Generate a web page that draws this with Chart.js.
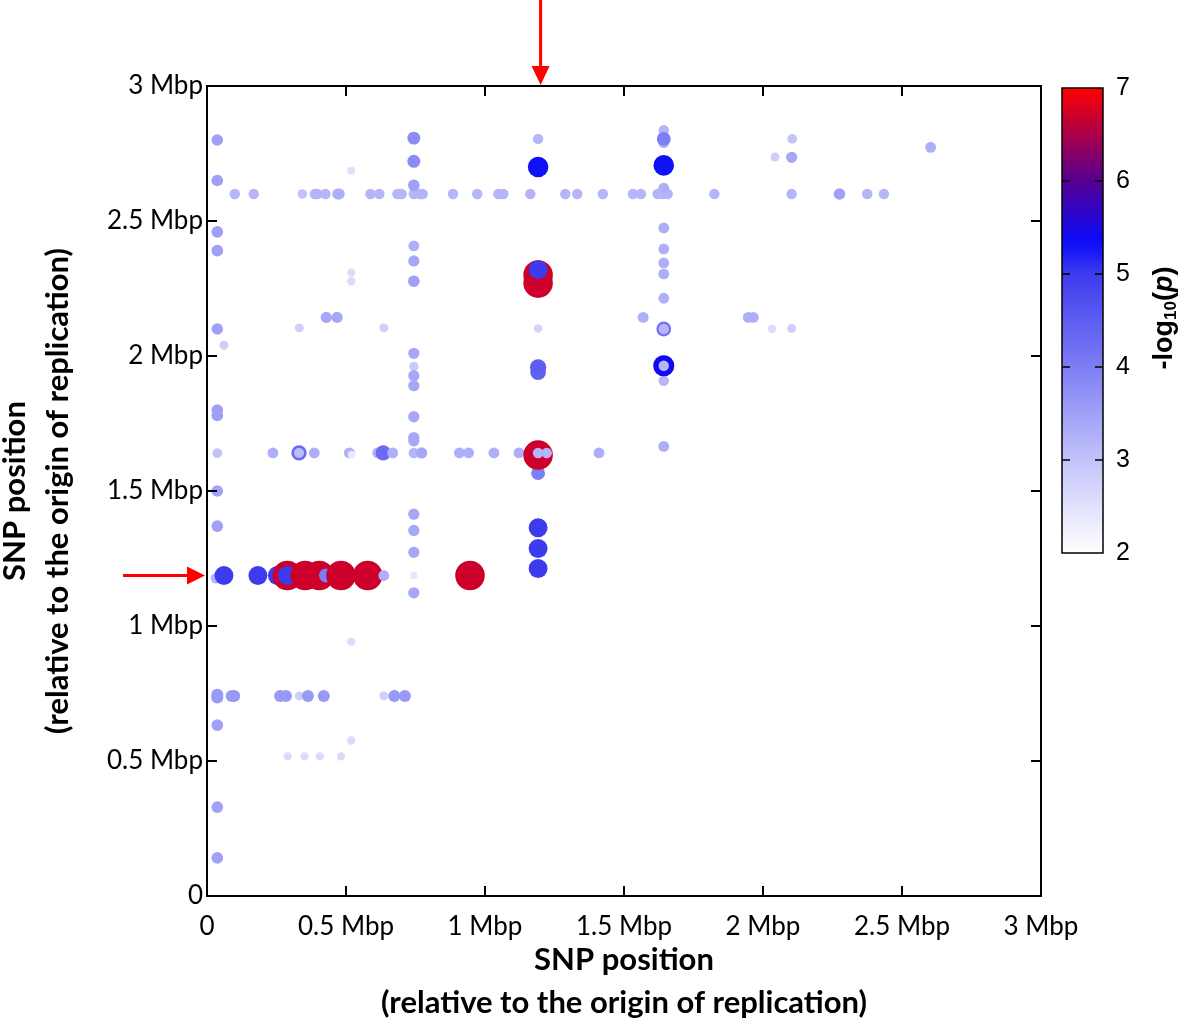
<!DOCTYPE html>
<html>
<head>
<meta charset="utf-8">
<script src="https://cdn.jsdelivr.net/npm/chart.js@4.4.0/dist/chart.umd.min.js"></script>
<style>
  html, body { margin: 0; padding: 0; background: #fff; }
  #wrap { width: 1181px; height: 1022px; }
</style>
</head>
<body>
<div id="wrap"><canvas id="chart" width="1181" height="1022"></canvas></div>
<script>
// SNP pair positions (Mbp from origin of replication) and -log10(p)
const snpX = [
    // column near 0
    0.037, 0.037, 0.037, 0.037, 0.037, 0.061, 0.037, 0.037, 0.037, 0.037, 0.037, 0.032, 0.037, 0.037, 0.037, 0.037, 0.037,
    // row at 2.6 Mbp
    0.10, 0.168, 0.343, 0.388, 0.397, 0.426, 0.470, 0.476, 0.588, 0.620, 0.685, 0.700, 0.744, 0.766, 0.776, 0.885, 0.972,
    1.048, 1.066, 1.163, 1.289, 1.332, 1.424, 1.532, 1.561, 1.621, 1.639, 1.657, 1.825, 2.103, 2.275, 2.375, 2.435,
    // column at 0.74 Mbp
    0.744, 0.744, 0.744, 0.744, 0.744, 0.744, 0.744, 0.744, 0.744, 0.744, 0.744, 0.744, 0.744, 0.744, 0.744, 0.744, 0.744,
    // scattered light points
    0.519, 0.519, 0.519, 0.429, 0.468, 1.569, 1.947, 1.965, 0.332, 0.636, 2.033, 2.103, 2.043, 2.103, 2.105, 2.603,
    // row at 1.64 Mbp
    0.237, 0.331, 0.331, 0.386, 0.512, 0.520, 0.614, 0.634, 0.668, 0.744, 0.772, 0.908, 0.941, 1.032, 1.122, 1.410,
    // row at 0.74 Mbp
    0.089, 0.098, 0.263, 0.284, 0.332, 0.363, 0.420, 0.636, 0.674, 0.712,
    // small points near 0.5 Mbp
    0.290, 0.351, 0.406, 0.482, 0.519, 0.519,
    // column at 1.64 Mbp
    1.643, 1.643, 1.643, 1.643, 1.643, 1.643, 1.643, 1.643, 1.643, 1.643, 1.643, 1.643, 1.643, 1.643, 1.643, 1.643,
    // column at 1.19 Mbp
    1.191, 1.191, 1.191, 1.191, 1.191, 1.191, 1.191, 1.191, 1.191, 1.191, 1.191, 1.191, 1.191, 1.191, 1.222,
    // row at 1.19 Mbp
    0.061, 0.183, 0.253, 0.289, 0.289, 0.353, 0.404, 0.428, 0.482, 0.578, 0.636, 0.744, 0.946
];
const snpY = [
    2.80, 2.65, 2.46, 2.39, 2.10, 2.04, 1.80, 1.78, 1.64, 1.50, 1.37, 1.177, 0.745, 0.735, 0.633, 0.329, 0.141,
    2.60, 2.60, 2.60, 2.60, 2.60, 2.60, 2.60, 2.60, 2.60, 2.60, 2.60, 2.60, 2.60, 2.60, 2.60, 2.60, 2.60,
    2.60, 2.60, 2.60, 2.60, 2.60, 2.60, 2.60, 2.60, 2.60, 2.60, 2.60, 2.60, 2.60, 2.60, 2.60, 2.60,
    2.807, 2.721, 2.632, 2.408, 2.352, 2.277, 2.01, 1.961, 1.927, 1.89, 1.775, 1.698, 1.686, 1.414, 1.354, 1.273, 1.123,
    2.686, 2.309, 2.277, 2.143, 2.143, 2.143, 2.143, 2.143, 2.104, 2.104, 2.10, 2.102, 2.737, 2.736, 2.804, 2.773,
    1.641, 1.641, 1.641, 1.641, 1.641, 1.635, 1.641, 1.641, 1.641, 1.641, 1.641, 1.641, 1.641, 1.641, 1.641, 1.641,
    0.741, 0.741, 0.741, 0.741, 0.741, 0.741, 0.741, 0.741, 0.741, 0.741,
    0.517, 0.517, 0.517, 0.517, 0.576, 0.942,
    2.836, 2.79, 2.804, 2.706, 2.622, 2.474, 2.397, 2.345, 2.304, 2.214, 2.10, 2.10, 1.908, 1.964, 1.964, 1.665,
    2.804, 2.700, 2.102, 1.94, 1.958, 1.566, 1.364, 1.287, 1.213, 2.27, 2.30, 2.32, 1.633, 1.641, 1.641,
    1.187, 1.187, 1.187, 1.187, 1.187, 1.187, 1.187, 1.187, 1.187, 1.187, 1.187, 1.187, 1.187
];
const logP = [
    3.5, 3.5, 3.5, 3.5, 3.5, 2.8, 3.5, 3.5, 3.0, 3.5, 3.5, 3.2, 3.6, 3.6, 3.5, 3.5, 3.5,
    3.2, 3.2, 3.0, 3.2, 3.2, 3.2, 3.3, 3.3, 3.2, 3.2, 3.2, 3.2, 3.2, 3.2, 3.2, 3.2, 3.2,
    3.2, 3.2, 3.2, 3.2, 3.2, 3.2, 3.2, 3.2, 3.2, 3.2, 3.2, 3.2, 3.2, 3.5, 3.2, 3.2,
    3.8, 3.8, 3.5, 3.3, 3.4, 3.5, 3.4, 2.9, 3.4, 3.4, 3.4, 3.4, 3.4, 3.4, 3.4, 3.4, 3.4,
    2.5, 2.6, 2.6, 3.4, 3.4, 3.3, 3.3, 3.3, 2.8, 2.8, 2.6, 2.8, 2.8, 3.4, 3.0, 3.3,
    3.3, 4.3, 3.1, 3.3, 3.3, 2.4, 3.3, 4.3, 3.3, 3.2, 3.4, 3.3, 3.3, 3.3, 3.3, 3.3,
    3.6, 3.6, 3.6, 3.6, 2.8, 3.6, 3.6, 2.8, 3.6, 3.6,
    2.6, 2.6, 2.6, 2.6, 2.6, 2.6,
    3.2, 3.3, 4.0, 5.3, 3.3, 3.3, 3.3, 3.3, 3.3, 3.3, 4.2, 3.2, 3.2, 5.4, 3.2, 3.3,
    3.2, 5.3, 2.7, 4.4, 4.5, 4.0, 5.0, 5.0, 5.0, 6.7, 6.7, 5.0, 6.7, 3.2, 3.2,
    5.0, 5.0, 5.0, 6.7, 5.0, 6.7, 6.7, 4.0, 6.7, 6.7, 3.3, 2.4, 6.7
];

const axisTicks = [0, 0.5, 1, 1.5, 2, 2.5, 3];
const axisTickLabels = ['0', '0.5 Mbp', '1 Mbp', '1.5 Mbp', '2 Mbp', '2.5 Mbp', '3 Mbp'];
const colorbarTicks = [2, 3, 4, 5, 6, 7];
const arrowAtX = 1.2;
const arrowAtY = 1.187;

const cmapStops = [
    [2.0, [255, 255, 255]],
    [3.0, [195, 195, 250]],
    [4.0, [125, 125, 245]],
    [5.0, [60, 60, 238]],
    [5.35, [10, 10, 250]],
    [6.0, [85, 0, 145]],
    [7.0, [255, 0, 0]]
];

function colorFor(v) {
    if (v <= cmapStops[0][0]) return 'rgb(255,255,255)';
    for (let i = 1; i < cmapStops.length; i++) {
        const [v1, c1] = cmapStops[i];
        const [v0, c0] = cmapStops[i - 1];
        if (v <= v1) {
            const t = (v - v0) / (v1 - v0);
            const c = c0.map((a, k) => Math.round(a + (c1[k] - a) * t));
            return `rgb(${c[0]},${c[1]},${c[2]})`;
        }
    }
    return 'rgb(255,0,0)';
}

function radiusFor(v) {
    const d = v - 2.5;
    return d > 0 ? 4 + 1.6 * d + 0.23 * d * d : 4 + 1.6 * d;
}

const frameTicks = {
    id: 'frameTicks',
    afterDatasetsDraw(chart) {
        const { ctx, chartArea: a, scales } = chart;
        ctx.save();
        ctx.strokeStyle = '#000';
        ctx.lineWidth = 2;
        ctx.strokeRect(a.left, a.top, a.right - a.left, a.bottom - a.top);
        ctx.beginPath();
        axisTicks.forEach((t) => {
            const px = scales.x.getPixelForValue(t);
            const py = scales.y.getPixelForValue(t);
            ctx.moveTo(px, a.bottom); ctx.lineTo(px, a.bottom - 10);
            ctx.moveTo(px, a.top); ctx.lineTo(px, a.top + 10);
            ctx.moveTo(a.left, py); ctx.lineTo(a.left + 10, py);
            ctx.moveTo(a.right, py); ctx.lineTo(a.right - 10, py);
        });
        ctx.stroke();
        ctx.restore();
    },
    afterDraw(chart) {
        const { ctx, chartArea: a, scales } = chart;
        ctx.save();
        // red arrows
        ctx.strokeStyle = '#f00';
        ctx.fillStyle = '#f00';
        ctx.lineWidth = 3;
        const ax = scales.x.getPixelForValue(arrowAtX);
        ctx.beginPath();
        ctx.moveTo(ax, 0); ctx.lineTo(ax, a.top - 16);
        ctx.stroke();
        ctx.beginPath();
        ctx.moveTo(ax - 9, a.top - 20); ctx.lineTo(ax + 9, a.top - 20); ctx.lineTo(ax, a.top - 1);
        ctx.closePath(); ctx.fill();
        const ay = scales.y.getPixelForValue(arrowAtY);
        ctx.beginPath();
        ctx.moveTo(123, ay); ctx.lineTo(a.left - 16, ay);
        ctx.stroke();
        ctx.beginPath();
        ctx.moveTo(a.left - 20, ay - 9); ctx.lineTo(a.left - 20, ay + 9); ctx.lineTo(a.left - 2, ay);
        ctx.closePath(); ctx.fill();

        // colour bar
        const cbL = 1062, cbR = 1103, cbT = a.top + 2, cbB = 553;
        const vMin = colorbarTicks[0], vMax = colorbarTicks[colorbarTicks.length - 1];
        const yOf = (v) => cbB - (v - vMin) / (vMax - vMin) * (cbB - cbT);
        const grad = ctx.createLinearGradient(0, cbB, 0, cbT);
        for (let s = 0; s <= 50; s++) {
            const v = vMin + (vMax - vMin) * s / 50;
            grad.addColorStop(s / 50, colorFor(v));
        }
        ctx.fillStyle = grad;
        ctx.fillRect(cbL, cbT, cbR - cbL, cbB - cbT);
        ctx.strokeStyle = '#000';
        ctx.lineWidth = 1.5;
        ctx.strokeRect(cbL, cbT, cbR - cbL, cbB - cbT);
        ctx.beginPath();
        colorbarTicks.slice(1, -1).forEach((v) => {
            const y = yOf(v);
            ctx.moveTo(cbL, y); ctx.lineTo(cbL + 8, y);
            ctx.moveTo(cbR, y); ctx.lineTo(cbR - 8, y);
        });
        ctx.stroke();
        ctx.fillStyle = '#000';
        ctx.font = '25px "Liberation Sans", Arial, sans-serif';
        ctx.textAlign = 'left';
        ctx.textBaseline = 'middle';
        colorbarTicks.forEach((v) => ctx.fillText(String(v), 1116, yOf(v)));

        // colour bar title: -log10(p)
        ctx.translate(1165, 318);
        ctx.rotate(-Math.PI / 2);
        ctx.textBaseline = 'middle';
        const parts = [
            ['-log', 'bold 27px "Liberation Sans", Arial, sans-serif', 0],
            ['10', 'bold 17px "Liberation Sans", Arial, sans-serif', 6],
            ['(', 'bold 27px "Liberation Sans", Arial, sans-serif', 0],
            ['p', 'italic bold 27px "Liberation Sans", Arial, sans-serif', 0],
            [')', 'bold 27px "Liberation Sans", Arial, sans-serif', 0]
        ];
        let total = 0;
        parts.forEach(([t, f]) => { ctx.font = f; total += ctx.measureText(t).width; });
        let cx = -total / 2;
        parts.forEach(([t, f, dy]) => {
            ctx.font = f;
            ctx.fillText(t, cx, dy);
            cx += ctx.measureText(t).width;
        });
        ctx.restore();
    }
};

const tickFont = { family: 'Lato', size: 26 };
const titleFont = { family: 'Lato', size: 31, weight: 'bold', lineHeight: '43px' };
const titleLines = ['SNP position', '(relative to the origin of replication)'];

new Chart(document.getElementById('chart'), {
    type: 'scatter',
    data: {
        datasets: [{
            data: snpX.map((x, i) => ({ x: x, y: snpY[i] })),
            pointRadius: (c) => radiusFor(logP[c.dataIndex]),
            pointHoverRadius: (c) => radiusFor(logP[c.dataIndex]),
            pointBackgroundColor: (c) => colorFor(logP[c.dataIndex]),
            pointBorderWidth: 0,
            borderWidth: 0
        }]
    },
    options: {
        responsive: false,
        animation: false,
        devicePixelRatio: 1,
        layout: { padding: { top: 86, right: 140, left: 0, bottom: 0 } },
        plugins: { legend: { display: false }, tooltip: { enabled: false } },
        scales: {
            x: {
                type: 'linear', min: 0, max: 3,
                grid: { display: false, drawTicks: false },
                border: { display: false },
                ticks: {
                    stepSize: 0.5, autoSkip: false, maxRotation: 0, padding: 15,
                    color: '#000', font: tickFont,
                    callback: (v) => axisTickLabels[axisTicks.indexOf(v)]
                },
                title: { display: true, text: titleLines, color: '#000', font: titleFont, padding: { top: 0, bottom: -2 } },
                afterFit: (s) => { s.height = 126; }
            },
            y: {
                type: 'linear', min: 0, max: 3,
                grid: { display: false, drawTicks: false },
                border: { display: false },
                ticks: {
                    stepSize: 0.5, autoSkip: false, padding: 4,
                    color: '#000', font: tickFont,
                    callback: (v) => axisTickLabels[axisTicks.indexOf(v)]
                },
                title: { display: true, text: titleLines, color: '#000', font: titleFont, padding: { top: -7, bottom: 0 } },
                afterFit: (s) => { s.width = 207; }
            }
        }
    },
    plugins: [frameTicks]
});
</script>
</body>
</html>
